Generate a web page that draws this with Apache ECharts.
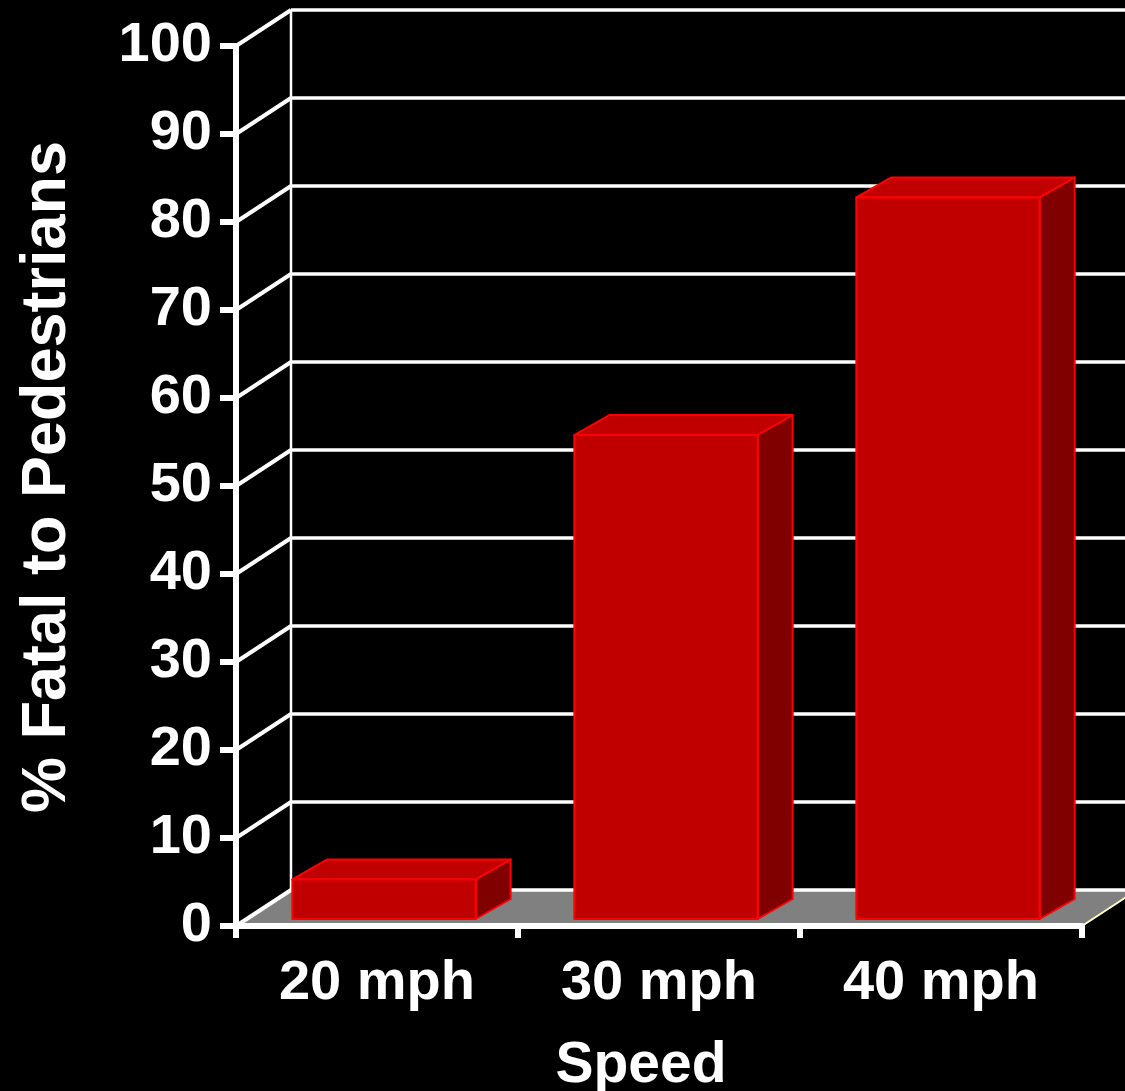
<!DOCTYPE html>
<html>
<head>
<meta charset="utf-8">
<script src="https://cdn.jsdelivr.net/npm/echarts@6/dist/echarts.min.js"></script>
<style>
  html, body { margin: 0; padding: 0; background: #000; }
  #chart { width: 1125px; height: 1091px; }
</style>
</head>
<body>
<div id="chart"></div>
<script>
// ---- data ----
const categories = ['20 mph', '30 mph', '40 mph'];
const fatalPercent = [4.5, 55, 82];
const yTicks = [0, 10, 20, 30, 40, 50, 60, 70, 80, 90, 100];
const yAxisTitle = '% Fatal to Pedestrians';
const xAxisTitle = 'Speed';

// ---- 3D projection styling constants ----
const WALL_DX = 55, WALL_DY = 36;     // depth of back wall
const FRONT_DX = 7, FRONT_DY = 7;     // bar front face inset
const BAR_DX = 35, BAR_DY = 20;       // bar depth
const BAR_FRAC = 0.65;
const FONT = '"Liberation Sans", Arial, sans-serif';

const chart = echarts.init(document.getElementById('chart'));

function renderFloor(params, api) {
  const cs = params.coordSys;
  const y0 = api.coord([0, 0])[1];
  const y100 = api.coord([0, 100])[1];
  const x0 = cs.x, x1 = cs.x + cs.width;
  return {
    type: 'group',
    children: [
      { type: 'polygon', shape: { points: [[x0, y0], [x0 + WALL_DX, y0 - WALL_DY], [x1 + WALL_DX, y0 - WALL_DY], [x1, y0]] },
        style: { fill: '#808080' } },
      { type: 'line', shape: { x1: x1, y1: y0, x2: x1 + WALL_DX, y2: y0 - WALL_DY },
        style: { stroke: '#FFFFCC', lineWidth: 2 } },
      { type: 'line', shape: { x1: x0 + WALL_DX, y1: y100 - WALL_DY, x2: x0 + WALL_DX, y2: y0 - WALL_DY },
        style: { stroke: '#fff', lineWidth: 2.5 } }
    ]
  };
}

function renderWall(params, api) {
  const cs = params.coordSys;
  const y = api.coord([0, api.value(0)])[1];
  const x0 = cs.x;
  return {
    type: 'group',
    children: [
      { type: 'line', shape: { x1: x0, y1: y, x2: x0 + WALL_DX, y2: y - WALL_DY },
        style: { stroke: '#fff', lineWidth: 4 } },
      { type: 'line', shape: { x1: x0 + WALL_DX, y1: y - WALL_DY, x2: api.getWidth(), y2: y - WALL_DY },
        style: { stroke: '#fff', lineWidth: 3.5 } }
    ]
  };
}

function renderBar(params, api) {
  const idx = api.value(0), v = api.value(1);
  const top = api.coord([idx, v]);
  const base = api.coord([idx, 0]);
  const band = api.size([1, 0])[0];
  const w = band * BAR_FRAC;
  const x1 = top[0] - w / 2 + FRONT_DX + (idx === 1 ? 5 : 0) * 0, x2 = x1 + w;
  const yt = top[1] - FRONT_DY, yb = base[1] - FRONT_DY;
  const edge = { stroke: '#FF0000', lineWidth: 2, lineJoin: 'round' };
  return {
    type: 'group',
    children: [
      { type: 'polygon', shape: { points: [[x2, yt], [x2 + BAR_DX, yt - BAR_DY], [x2 + BAR_DX, yb - BAR_DY], [x2, yb]] },
        style: Object.assign({ fill: '#800000' }, edge) },
      { type: 'polygon', shape: { points: [[x1, yt], [x2, yt], [x2 + BAR_DX, yt - BAR_DY], [x1 + BAR_DX, yt - BAR_DY]] },
        style: Object.assign({ fill: '#C00000' }, edge) },
      { type: 'rect', shape: { x: x1, y: yt, width: w, height: yb - yt },
        style: Object.assign({ fill: '#C00000' }, edge) }
    ]
  };
}

const option = {
  backgroundColor: '#000',
  animation: false,
  grid: { left: 236, right: 43, top: 46, bottom: 165, containLabel: false, outerBoundsMode: 'none' },
  xAxis: {
    type: 'category',
    data: categories,
    z: 10,
    boundaryGap: true,
    axisLine: { lineStyle: { color: '#fff', width: 6 } },
    axisTick: { show: true, length: 12, lineStyle: { color: '#fff', width: 6 } },
    axisLabel: { color: '#fff', fontFamily: FONT, fontWeight: 'bold', fontSize: 56, margin: 30 },
    splitLine: { show: false },
    name: xAxisTitle,
    nameLocation: 'middle',
    nameGap: 112,
    nameTextStyle: { color: '#fff', fontFamily: FONT, fontWeight: 'bold', fontSize: 57, padding: [0, 36, 0, 0] }
  },
  yAxis: {
    type: 'value',
    min: 0, max: 100, interval: 10,
    z: 10,
    axisLine: { show: true, lineStyle: { color: '#fff', width: 6 } },
    axisTick: { show: true, length: 16, lineStyle: { color: '#fff', width: 6 } },
    axisLabel: { color: '#fff', fontFamily: FONT, fontWeight: 'bold', fontSize: 56, margin: 24 },
    splitLine: { show: false },
    name: yAxisTitle,
    nameLocation: 'middle',
    nameRotate: 90,
    nameGap: 157,
    nameTextStyle: { color: '#fff', fontFamily: FONT, fontWeight: 'bold', fontSize: 63, padding: [0, 0, 0, 18] }
  },
  series: [
    { type: 'custom', name: 'floor', z: 1, renderItem: renderFloor, data: [[0]], silent: true, clip: false },
    { type: 'custom', name: 'wall', z: 1, renderItem: renderWall, data: yTicks.map(v => [v]), silent: true, clip: false },
    { type: 'custom', name: 'Fatal %', z: 3, renderItem: renderBar,
      data: fatalPercent.map((v, i) => [i, v]), clip: false,
      encode: { x: 0, y: 1 } }
  ]
};
chart.setOption(option);
</script>
</body>
</html>
